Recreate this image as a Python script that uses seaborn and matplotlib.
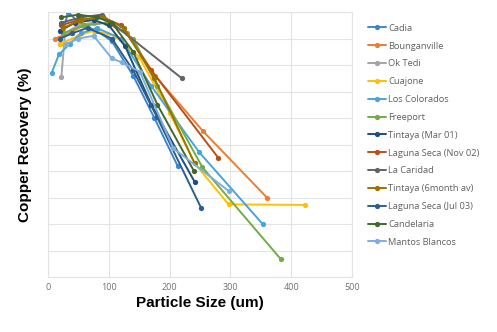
import matplotlib
matplotlib.use("Agg")
import matplotlib.pyplot as plt
import seaborn as sns
import pandas as pd

names = ["Cadia", "Bounganville", "Ok Tedi", "Cuajone", "Los Colorados", "Freeport",
         "Tintaya (Mar 01)", "Laguna Seca (Nov 02)", "La Caridad", "Tintaya (6month av)",
         "Laguna Seca (Jul 03)", "Candelaria", "Mantos Blancos"]
colors = ["#3F85CC", "#ED7D31", "#A5A5A5", "#FFC000", "#4BA3DD", "#70AD47",
          "#1F4E79", "#B5501A", "#636363", "#997300", "#2D5F8E", "#43682B", "#7CAFDD"]

cadia_x = [20, 33, 55, 80, 105, 140, 175, 213]
cadia_y = [88, 100, 95, 93, 89, 76, 60, 42]
boug_x = [12, 33, 60, 95, 130, 176, 255, 360]
boug_y = [90, 92, 95, 96, 92, 76, 55, 30]
oktedi_x = [22, 28, 50, 75]
oktedi_y = [75.6, 92, 95, 96]
cuaj_x = [20, 50, 75, 110, 150, 200, 241, 297, 423]
cuaj_y = [88, 91, 93, 91, 83, 62, 43, 27.4, 27.2]
losc_x = [6, 18, 36, 55, 80, 120, 170, 249, 353]
losc_y = [77, 84, 88, 92, 94, 90, 72, 47, 20]
free_x = [25, 60, 100, 140, 180, 254, 383]
free_y = [92, 95, 96, 90, 72, 41.4, 6.7]
tmar_x = [20, 45, 75, 100, 127, 170, 241]
tmar_y = [93, 96, 97, 95, 87, 65, 36]
lsnov_x = [22, 50, 90, 120, 170, 280]
lsnov_y = [95, 97, 98, 95, 78, 45]
lacar_x = [22, 55, 88, 220]
lacar_y = [96, 98, 99, 75]
t6m_x = [25, 55, 90, 125, 175, 241]
t6m_y = [94, 97, 98, 94, 75, 43]
lsjul_x = [20, 40, 65, 105, 140, 179, 252]
lsjul_y = [90, 92, 94, 90, 78, 60.5, 26]
cand_x = [22, 50, 80, 105, 140, 180, 240]
cand_y = [98, 99, 98, 96, 85, 65, 40]
mant_x = [30, 50, 75, 105, 121, 151, 206, 297]
mant_y = [88, 90, 91, 82.5, 81, 77.5, 48.6, 32.5]

xs = [cadia_x, boug_x, oktedi_x, cuaj_x, losc_x, free_x, tmar_x, lsnov_x, lacar_x,
      t6m_x, lsjul_x, cand_x, mant_x]
ys = [cadia_y, boug_y, oktedi_y, cuaj_y, losc_y, free_y, tmar_y, lsnov_y, lacar_y,
      t6m_y, lsjul_y, cand_y, mant_y]

sns.set_theme(style="white")
plt.rcParams['font.family'] = ['Open Sans', 'DejaVu Sans']

fig = plt.figure(figsize=(4.97, 3.32), dpi=100)
ax = fig.add_axes([48/497, 55/332, 304/497, 265/332])

for n, c, x, y in zip(names, colors, xs, ys):
    df = pd.DataFrame({"x": x, "y": y})
    sns.lineplot(data=df, x="x", y="y", ax=ax, color=c, marker="o", markersize=3.8,
                 markeredgewidth=0, linewidth=1.4, sort=False, label=n)

ax.set_xlim(0, 500)
ax.set_ylim(0, 100)
ax.set_xticks([0, 100, 200, 300, 400, 500])
ax.set_yticks(range(0, 101, 10))
ax.set_yticklabels([])
ax.tick_params(axis="x", labelsize=6.5, colors="#707070", length=0, pad=4)
ax.tick_params(axis="y", length=0)
ax.grid(True, color="#E3E3E3", linewidth=0.8)
for s in ax.spines.values():
    s.set_color("#E3E3E3")
    s.set_linewidth(0.8)

ax.set_xlabel("Particle Size (um)", fontsize=11, fontweight="bold", family="Liberation Sans",
              color="black", labelpad=3)
ax.set_ylabel("Copper Recovery (%)", fontsize=11, fontweight="bold", family="Liberation Sans",
              color="black", labelpad=8)

leg = ax.legend(loc="upper left", bbox_to_anchor=(1.04, 0.97), frameon=False,
                fontsize=6.7, handlelength=2.0, handletextpad=0.2, labelspacing=0.95,
                borderaxespad=0)
for t in leg.get_texts():
    t.set_color("#606060")

fig.savefig("out.png", dpi=100)
